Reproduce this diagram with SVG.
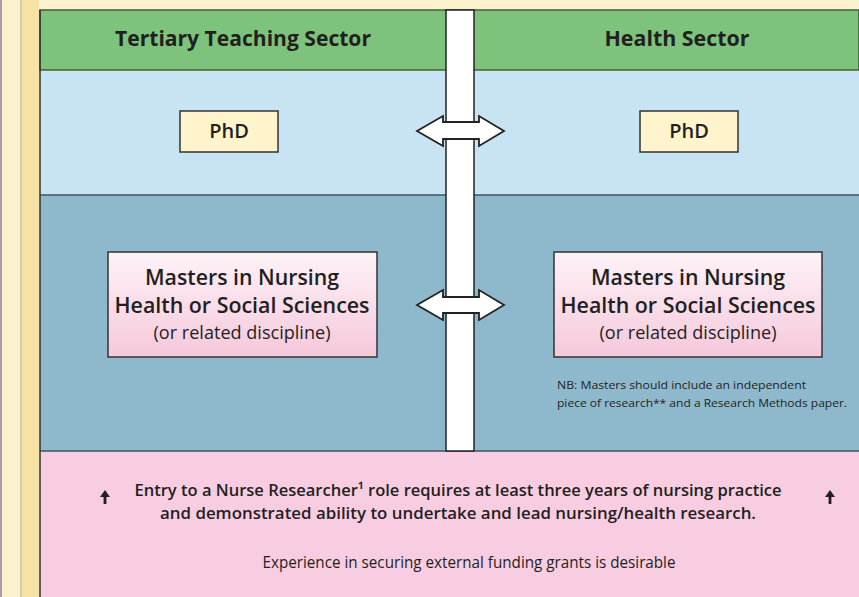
<svg xmlns="http://www.w3.org/2000/svg" width="859" height="597" viewBox="0 0 859 597">
<defs>
<linearGradient id="pinkg" x1="0" y1="0" x2="0" y2="1">
<stop offset="0" stop-color="#fdf3f7"/>
<stop offset="1" stop-color="#f6c8dc"/>
</linearGradient>
<style>
.t{font-family:"Open Sans","Liberation Sans",sans-serif;fill:#231f20;text-anchor:middle}
.b{font-weight:700}
.s{font-weight:600}
.r{font-weight:400}
.box{stroke:#333;stroke-width:1.5}
.arr{fill:#fff;stroke:#222;stroke-width:1.8;stroke-linejoin:miter}
</style>
</defs>
<rect x="0" y="0" width="859" height="597" fill="#fbf1cc"/>
<rect x="0" y="0" width="2" height="597" fill="#a99aa6"/>
<rect x="20" y="0" width="2" height="597" fill="#d8cba4"/>
<rect x="22" y="0" width="17" height="597" fill="#f7e2a6"/>
<g id="bands">
<rect x="40" y="10" width="819" height="60" fill="#7dc37b" stroke="#3f5f3c" stroke-width="1.5"/>
<rect x="40" y="71" width="819" height="124" fill="#c8e3f1"/>
<rect x="40" y="195" width="819" height="256" fill="#8eb9cd"/>
<line x1="40" y1="195" x2="859" y2="195" stroke="#3d5663" stroke-width="1.5"/>
<rect x="40" y="451" width="819" height="146" fill="#f9cde1"/>
<line x1="40" y1="451" x2="859" y2="451" stroke="#3d5663" stroke-width="1.5"/>
<line x1="40" y1="10" x2="40" y2="597" stroke="#333" stroke-width="1.5"/>
</g>
<rect id="divider" x="446" y="10" width="28" height="441" fill="#fff" stroke="#222" stroke-width="1.5"/>
<g id="header-left"><text class="t b" x="243" y="46" font-size="21" textLength="256" lengthAdjust="spacingAndGlyphs">Tertiary Teaching Sector</text></g>
<g id="header-right"><text class="t b" x="677" y="46" font-size="21" textLength="145" lengthAdjust="spacingAndGlyphs">Health Sector</text></g>
<g id="phd-left">
<rect class="box" x="180" y="111" width="98" height="41" fill="#fff4cb"/>
<text class="t s" x="229" y="138" font-size="20">PhD</text>
</g>
<g id="phd-right">
<rect class="box" x="640" y="111" width="98" height="41" fill="#fff4cb"/>
<text class="t s" x="689" y="138" font-size="20">PhD</text>
</g>
<g id="masters-left">
<rect class="box" x="108" y="252" width="269" height="105" fill="url(#pinkg)"/>
<text class="t s" x="242" y="285" font-size="22" textLength="194" lengthAdjust="spacingAndGlyphs">Masters in Nursing</text>
<text class="t s" x="242" y="313" font-size="22" textLength="255" lengthAdjust="spacingAndGlyphs">Health or Social Sciences</text>
<text class="t r" x="242" y="339" font-size="17.5" textLength="177" lengthAdjust="spacingAndGlyphs">(or related discipline)</text>
</g>
<g id="masters-right">
<rect class="box" x="554" y="252" width="268" height="105" fill="url(#pinkg)"/>
<text class="t s" x="688" y="285" font-size="22" textLength="194" lengthAdjust="spacingAndGlyphs">Masters in Nursing</text>
<text class="t s" x="688" y="313" font-size="22" textLength="255" lengthAdjust="spacingAndGlyphs">Health or Social Sciences</text>
<text class="t r" x="688" y="339" font-size="17.5" textLength="177" lengthAdjust="spacingAndGlyphs">(or related discipline)</text>
</g>
<g id="note">
<text class="t r" x="557" y="389" font-size="11" style="text-anchor:start" textLength="249" lengthAdjust="spacingAndGlyphs">NB: Masters should include an independent</text>
<text class="t r" x="557" y="407" font-size="11" style="text-anchor:start" textLength="290" lengthAdjust="spacingAndGlyphs">piece of research** and a Research Methods paper.</text>
</g>
<g id="connectors">
<path class="arr" d="M417,131 L443,116 L443,122 L479,122 L479,116 L504,131 L479,146 L479,139 L443,139 L443,146 Z"/>
<path class="arr" d="M417,305 L443,290 L443,297 L479,297 L479,290 L504,305 L479,320 L479,313 L443,313 L443,320 Z"/>
</g>
<g id="entry">
<path d="M105,490 L100,497 L103.6,497 L103.6,504 L106.4,504 L106.4,497 L110,497 Z" fill="#231f20"/>
<path d="M830,490 L825,497 L828.6,497 L828.6,504 L831.4,504 L831.4,497 L835,497 Z" fill="#231f20"/>
<text class="t s" x="458" y="496" font-size="17" textLength="647" lengthAdjust="spacingAndGlyphs">Entry to a Nurse Researcher¹ role requires at least three years of nursing practice</text>
<text class="t s" x="458" y="519" font-size="17" textLength="596" lengthAdjust="spacingAndGlyphs">and demonstrated ability to undertake and lead nursing/health research.</text>
<text class="t r" x="469" y="568" font-size="15.5" textLength="413" lengthAdjust="spacingAndGlyphs">Experience in securing external funding grants is desirable</text>
</g>
</svg>
